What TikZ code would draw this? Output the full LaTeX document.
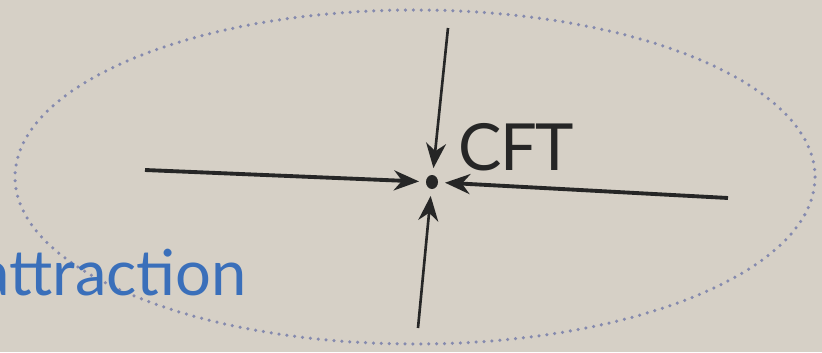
\documentclass[tikz,border=0pt]{standalone}
\usepackage{fontspec}
\setmainfont{Lato}
\usetikzlibrary{arrows.meta, shapes.geometric}
\definecolor{paper}{HTML}{D6D0C6}
\definecolor{ringcol}{HTML}{858AAE}
\definecolor{bluetxt}{HTML}{3A6FBA}

\begin{document}
\begin{tikzpicture}[
    x=0.02cm, y=-0.02cm,
    fixed_pt/.style={ellipse, fill=black!85, minimum width=0.24cm, minimum height=0.28cm, inner sep=0pt, outer sep=0.14cm},
    flow/.style={-{Stealth[length=5mm, width=4mm, inset=1.6mm]}, black!85, line width=2.2pt},
    thin_flow/.style={flow, line width=1.5pt}
]
    \fill[paper] (0,0) rectangle (822,352);
    \useasboundingbox (0,0) rectangle (822,352);
    \draw[ringcol, line width=2pt, line cap=round, dash pattern=on 0pt off 4.5pt] (415,177) ellipse [x radius=400, y radius=167];
    \node[fixed_pt] (CFT) at (432,182) {};
    \node[anchor=base west, font=\fontsize{37}{37}\selectfont\addfontfeatures{LetterSpace=-2}, black!85] (lbl) at (452,170) {CFT};
    \node[anchor=base west, font=\fontsize{36}{36}\selectfont, bluetxt, inner sep=0pt] (attr) at (-22,295) {attraction};
    \coordinate (L) at (145,170);
    \coordinate (R) at (728,198);
    \coordinate (T) at (448,28);
    \coordinate (B) at (418,328);
    \draw [flow] (L) -- (CFT);
    \draw [flow] (R) -- (CFT);
    \draw [thin_flow] (T) -- (CFT);
    \draw [thin_flow] (B) -- (CFT);
\end{tikzpicture}
\end{document}
